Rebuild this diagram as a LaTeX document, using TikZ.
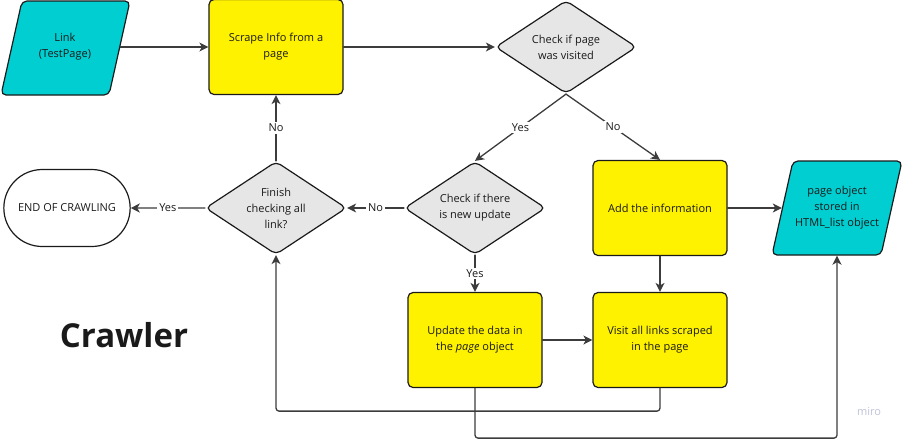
\documentclass[tikz,border=0pt]{standalone}
\usepackage{fontspec}
\setmainfont{Open Sans}
\usetikzlibrary{arrows.meta, shapes.geometric, shapes.misc}
\usetikzlibrary{positioning}
\definecolor{miroyellow}{RGB}{255,242,0}
\definecolor{mirocyan}{RGB}{0,206,209}
\definecolor{mirogray}{RGB}{230,230,230}
\definecolor{miroline}{RGB}{60,60,60}
\definecolor{miroink}{RGB}{26,26,26}
\definecolor{mirowm}{RGB}{190,195,215}

\begin{document}
\begin{tikzpicture}[line cap=round,line join=round,>={Stealth[length=9pt,width=9pt,inset=2.5pt]},x=1pt,y=-1pt,
  font=\fontsize{11}{16}\selectfont, text=miroink,
  process/.style={draw=miroink, fill=miroyellow, line width=1.2pt, rounded corners=5pt, minimum width=134pt, minimum height=95pt, align=center},
  dataface/.style={draw=miroink, fill=mirocyan, line width=1.2pt, rounded corners=5pt},
  datain/.style={minimum width=110pt, minimum height=95pt, inner sep=0pt, align=center},
  decision/.style={diamond, aspect=1.5, draw=miroink, fill=mirogray, line width=1.2pt, rounded corners=5pt, inner sep=0pt, minimum width=141pt, minimum height=93pt, align=center},
  terminal/.style={rounded rectangle, draw=miroink, line width=1.2pt, minimum width=133pt, minimum height=77pt},
  flow/.style={->, draw=miroline, line width=1.3pt},
  answer/.style={fill=white, inner sep=2pt, font=\fontsize{11}{13}\selectfont}]
\useasboundingbox (0,0) rectangle (904,440);
% data shapes (slanted)
\draw[dataface] (1,95) -- (22,1) -- (130,1) -- (109,95) -- cycle;
\draw[dataface] (772,255) -- (793,161) -- (902,161) -- (881,255) -- cycle;
% nodes
\node[datain] (link) at (65,47) {Link\\(TestPage)};
\node[process] (scrape) at (276,47) {Scrape Info from a\\page};
\node[decision] (visited) at (566,47) {Check if page\\was visited};
\node[decision] (newupd) at (475,208) {Check if there\\is new update};
\node[decision] (finish) at (276,208) {Finish\\checking all\\link?};
\node[terminal] (endcrawl) at (67,208) {END OF CRAWLING};
\node[process] (addinfo) at (660,208) {Add the information};
\node[datain] (stored) at (837,208) {page object\\stored in\\HTML\_list object};
\node[process] (update) at (475,340) {Update the data in\\the \textit{page} object};
\node[process] (visitall) at (660,340) {Visit all links scraped\\in the page};
\node[font=\fontsize{33}{36}\selectfont\bfseries] (title) at (124,335) {Crawler};
\node[text=mirowm, font=\fontsize{11}{13}\selectfont] (wm) at (869,412) {miro};
% connectors
\draw[flow] (link) -- (scrape);
\draw[flow] (scrape) -- (visited);
\draw[flow] (visited.south) -- node[answer] {Yes} (newupd.north);
\draw[flow] (visited.south) -- node[answer] {No} (addinfo.north);
\draw[flow] (newupd) -- node[answer] {No} (finish);
\draw[flow] (newupd) -- node[answer] {Yes} (update);
\draw[flow] (finish) -- node[answer] {Yes} (endcrawl);
\draw[flow] (finish) -- node[answer] {No} (scrape);
\draw[flow] (addinfo) -- (stored);
\draw[flow] (addinfo) -- (visitall);
\draw[flow] (update) -- (visitall);
\draw[flow, rounded corners=3pt] (visitall.south) -- ++(0,23) -| (finish.south);
\draw[flow, rounded corners=3pt] (update.south) -- ++(0,50) -| (stored.south);
\end{tikzpicture}
\end{document}
